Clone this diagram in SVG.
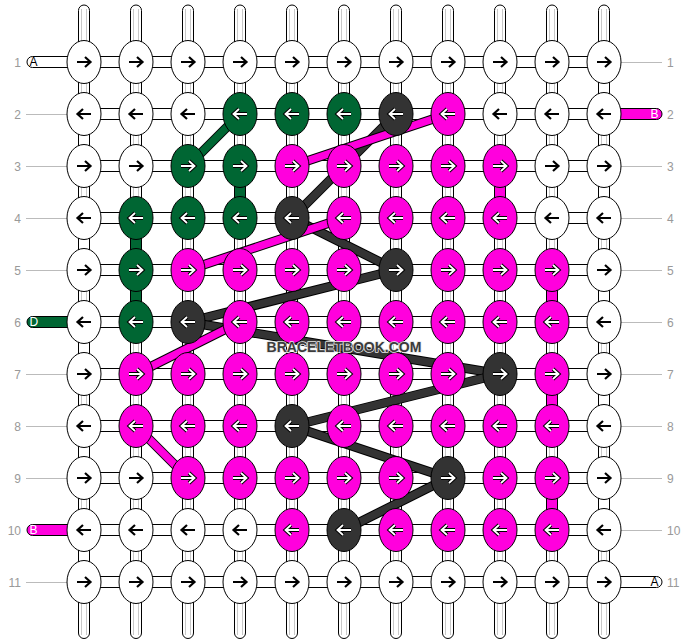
<svg xmlns="http://www.w3.org/2000/svg" xmlns:xlink="http://www.w3.org/1999/xlink" width="688" height="644" viewBox="0 0 688 644">
<style>
.th{fill:#fff;stroke:#000;stroke-width:1}
.gl{fill:none;stroke:#c8c8c8;stroke-width:1}
.ll{stroke:#bbb;stroke-width:1}
.num{font-family:"Liberation Sans",Arial,sans-serif;font-size:12px;fill:#999}
.pt{font-family:"Liberation Sans",Arial,sans-serif;font-size:12px}
ellipse{stroke:#000;stroke-width:1}
.w{fill:#fff}.g{fill:#006633}.m{fill:#ff00dd}.k{fill:#333333}
.ab{fill:none;stroke:#000;stroke-width:2.2}
.ao{fill:none;stroke:#000;stroke-width:3.8}
.aw{fill:none;stroke:#fff;stroke-width:1.8}
.bo{stroke:#000;stroke-width:9.5}
.bg{stroke:#006633;stroke-width:7.5}
.bm{stroke:#ff00dd;stroke-width:7.5}
.bk{stroke:#333333;stroke-width:7.5}
.wm{font-family:"Liberation Sans",Arial,sans-serif;font-weight:bold;font-size:14px;fill:#3c3c3c;stroke:#e8e8e8;stroke-width:1.6;paint-order:stroke;stroke-linejoin:round}
</style>
<defs>
<path id="rp" d="M-7,0H6M1,-5L6.5,0L1,5"/>
<path id="lp" d="M7,0H-6M-1,-5L-6.5,0L-1,5"/>
<g id="RB"><use href="#rp" class="ab"/></g>
<g id="LB"><use href="#lp" class="ab"/></g>
<g id="RW"><use href="#rp" class="ao"/><use href="#rp" class="aw"/></g>
<g id="LW"><use href="#lp" class="ao"/><use href="#lp" class="aw"/></g>
</defs>
<rect width="688" height="644" fill="#fff"/>
<g id="threads">
<rect class="th" x="78.5" y="5" width="11" height="633.5" rx="5.5"/>
<rect class="th" x="130.5" y="5" width="11" height="633.5" rx="5.5"/>
<rect class="th" x="182.5" y="5" width="11" height="633.5" rx="5.5"/>
<rect class="th" x="234.5" y="5" width="11" height="633.5" rx="5.5"/>
<rect class="th" x="286.5" y="5" width="11" height="633.5" rx="5.5"/>
<rect class="th" x="338.5" y="5" width="11" height="633.5" rx="5.5"/>
<rect class="th" x="390.5" y="5" width="11" height="633.5" rx="5.5"/>
<rect class="th" x="442.5" y="5" width="11" height="633.5" rx="5.5"/>
<rect class="th" x="494.5" y="5" width="11" height="633.5" rx="5.5"/>
<rect class="th" x="546.5" y="5" width="11" height="633.5" rx="5.5"/>
<rect class="th" x="598.5" y="5" width="11" height="633.5" rx="5.5"/>
<path class="gl" d="M81.5,9V635M86.5,9V635M133.5,9V635M138.5,9V635M185.5,9V635M190.5,9V635M237.5,9V635M242.5,9V635M289.5,9V635M294.5,9V635M341.5,9V635M346.5,9V635M393.5,9V635M398.5,9V635M445.5,9V635M450.5,9V635M497.5,9V635M502.5,9V635M549.5,9V635M554.5,9V635M601.5,9V635M606.5,9V635"/>
<rect class="th" x="78.5" y="133" width="11" height="14"/>
<rect class="th" x="78.5" y="237" width="11" height="14"/>
<rect class="th" x="78.5" y="341" width="11" height="14"/>
<rect class="th" x="78.5" y="445" width="11" height="14"/>
<rect class="th" x="78.5" y="549" width="11" height="14"/>
<rect class="th" x="598.5" y="81" width="11" height="14"/>
<rect class="th" x="598.5" y="185" width="11" height="14"/>
<rect class="th" x="598.5" y="289" width="11" height="14"/>
<rect class="th" x="598.5" y="393" width="11" height="14"/>
<rect class="th" x="598.5" y="497" width="11" height="14"/>
<rect class="th g" x="130.5" y="237" width="11" height="14"/>
<rect class="th g" x="130.5" y="289" width="11" height="14"/>
<rect class="th g" x="234.5" y="185" width="11" height="14"/>
<rect class="th m" x="494.5" y="185" width="11" height="14"/>
<rect class="th m" x="546.5" y="289" width="11" height="14"/>
<rect class="th m" x="546.5" y="393" width="11" height="14"/>
<rect class="th m" x="546.5" y="497" width="11" height="14"/>
<rect class="th" x="84" y="56.5" width="520" height="11"/>
<rect class="th" x="84" y="108.5" width="520" height="11"/>
<rect class="th" x="84" y="160.5" width="520" height="11"/>
<rect class="th" x="84" y="212.5" width="520" height="11"/>
<rect class="th" x="84" y="264.5" width="520" height="11"/>
<rect class="th" x="84" y="316.5" width="520" height="11"/>
<rect class="th" x="84" y="368.5" width="520" height="11"/>
<rect class="th" x="84" y="420.5" width="520" height="11"/>
<rect class="th" x="84" y="472.5" width="520" height="11"/>
<rect class="th" x="84" y="524.5" width="520" height="11"/>
<rect class="th" x="84" y="576.5" width="520" height="11"/>
</g>
<g id="labels">
<line class="ll" x1="26" y1="114.5" x2="67" y2="114.5"/>
<line class="ll" x1="26" y1="166.5" x2="67" y2="166.5"/>
<line class="ll" x1="26" y1="218.5" x2="67" y2="218.5"/>
<line class="ll" x1="26" y1="270.5" x2="67" y2="270.5"/>
<line class="ll" x1="26" y1="374.5" x2="67" y2="374.5"/>
<line class="ll" x1="26" y1="426.5" x2="67" y2="426.5"/>
<line class="ll" x1="26" y1="478.5" x2="67" y2="478.5"/>
<line class="ll" x1="26" y1="582.5" x2="67" y2="582.5"/>
<line class="ll" x1="621" y1="62.5" x2="662" y2="62.5"/>
<line class="ll" x1="621" y1="166.5" x2="662" y2="166.5"/>
<line class="ll" x1="621" y1="218.5" x2="662" y2="218.5"/>
<line class="ll" x1="621" y1="270.5" x2="662" y2="270.5"/>
<line class="ll" x1="621" y1="322.5" x2="662" y2="322.5"/>
<line class="ll" x1="621" y1="374.5" x2="662" y2="374.5"/>
<line class="ll" x1="621" y1="426.5" x2="662" y2="426.5"/>
<line class="ll" x1="621" y1="478.5" x2="662" y2="478.5"/>
<line class="ll" x1="621" y1="530.5" x2="662" y2="530.5"/>
<g text-anchor="end">
<text class="num" x="21" y="66.5">1</text>
<text class="num" x="21" y="118.5">2</text>
<text class="num" x="21" y="170.5">3</text>
<text class="num" x="21" y="222.5">4</text>
<text class="num" x="21" y="274.5">5</text>
<text class="num" x="21" y="326.5">6</text>
<text class="num" x="21" y="378.5">7</text>
<text class="num" x="21" y="430.5">8</text>
<text class="num" x="21" y="482.5">9</text>
<text class="num" x="21" y="534.5">10</text>
<text class="num" x="21" y="586.5">11</text>
</g>
<text class="num" x="667" y="66.5">1</text>
<text class="num" x="667" y="118.5">2</text>
<text class="num" x="667" y="170.5">3</text>
<text class="num" x="667" y="222.5">4</text>
<text class="num" x="667" y="274.5">5</text>
<text class="num" x="667" y="326.5">6</text>
<text class="num" x="667" y="378.5">7</text>
<text class="num" x="667" y="430.5">8</text>
<text class="num" x="667" y="482.5">9</text>
<text class="num" x="667" y="534.5">10</text>
<text class="num" x="667" y="586.5">11</text>
</g>
<g id="thread-ends">
<g id="end-A-left"><path class="th" d="M70,56.5H32.5A5.5,5.5 0 0 0 32.5,67.5H70Z"/><text class="pt" x="29.5" y="66" fill="#000">A</text></g>
<g id="end-D-left"><path class="th g" d="M70,316.5H32.5A5.5,5.5 0 0 0 32.5,327.5H70Z"/><text class="pt" x="29.5" y="326" fill="#fff">D</text></g>
<g id="end-B-left"><path class="th m" d="M70,524.5H32.5A5.5,5.5 0 0 0 32.5,535.5H70Z"/><text class="pt" x="29.5" y="534" fill="#fff">B</text></g>
<g id="end-B-right"><path class="th m" d="M618,108.5H656.5A5.5,5.5 0 0 1 656.5,119.5H618Z"/><text class="pt" x="650.5" y="118" fill="#fff">B</text></g>
<g id="end-A-right"><path class="th" d="M618,576.5H656.5A5.5,5.5 0 0 1 656.5,587.5H618Z"/><text class="pt" x="650.5" y="586" fill="#000">A</text></g>
</g>
<g id="connectors">
<line class="bo" x1="188" y1="166" x2="240" y2="114"/><line class="bg" x1="188" y1="166" x2="240" y2="114"/>
<line class="bo" x1="396" y1="114" x2="292" y2="218"/><line class="bk" x1="396" y1="114" x2="292" y2="218"/>
<line class="bo" x1="292" y1="218" x2="396" y2="270"/><line class="bk" x1="292" y1="218" x2="396" y2="270"/>
<line class="bo" x1="396" y1="270" x2="188" y2="322"/><line class="bk" x1="396" y1="270" x2="188" y2="322"/>
<line class="bo" x1="188" y1="322" x2="500" y2="374"/><line class="bk" x1="188" y1="322" x2="500" y2="374"/>
<line class="bo" x1="500" y1="374" x2="292" y2="426"/><line class="bk" x1="500" y1="374" x2="292" y2="426"/>
<line class="bo" x1="292" y1="426" x2="448" y2="478"/><line class="bk" x1="292" y1="426" x2="448" y2="478"/>
<line class="bo" x1="448" y1="478" x2="344" y2="530"/><line class="bk" x1="448" y1="478" x2="344" y2="530"/>
<line class="bo" x1="448" y1="114" x2="292" y2="166"/><line class="bm" x1="448" y1="114" x2="292" y2="166"/>
<line class="bo" x1="344" y1="218" x2="188" y2="270"/><line class="bm" x1="344" y1="218" x2="188" y2="270"/>
<line class="bo" x1="240" y1="322" x2="136" y2="374"/><line class="bm" x1="240" y1="322" x2="136" y2="374"/>
<line class="bo" x1="136" y1="426" x2="188" y2="478"/><line class="bm" x1="136" y1="426" x2="188" y2="478"/>
</g>
<g id="knots">
<g id="k1-1" transform="translate(84,62)"><ellipse class="w" rx="17" ry="21.5"/><use href="#RB"/></g>
<g id="k1-2" transform="translate(136,62)"><ellipse class="w" rx="17" ry="21.5"/><use href="#RB"/></g>
<g id="k1-3" transform="translate(188,62)"><ellipse class="w" rx="17" ry="21.5"/><use href="#RB"/></g>
<g id="k1-4" transform="translate(240,62)"><ellipse class="w" rx="17" ry="21.5"/><use href="#RB"/></g>
<g id="k1-5" transform="translate(292,62)"><ellipse class="w" rx="17" ry="21.5"/><use href="#RB"/></g>
<g id="k1-6" transform="translate(344,62)"><ellipse class="w" rx="17" ry="21.5"/><use href="#RB"/></g>
<g id="k1-7" transform="translate(396,62)"><ellipse class="w" rx="17" ry="21.5"/><use href="#RB"/></g>
<g id="k1-8" transform="translate(448,62)"><ellipse class="w" rx="17" ry="21.5"/><use href="#RB"/></g>
<g id="k1-9" transform="translate(500,62)"><ellipse class="w" rx="17" ry="21.5"/><use href="#RB"/></g>
<g id="k1-10" transform="translate(552,62)"><ellipse class="w" rx="17" ry="21.5"/><use href="#RB"/></g>
<g id="k1-11" transform="translate(604,62)"><ellipse class="w" rx="17" ry="21.5"/><use href="#RB"/></g>

<g id="k2-1" transform="translate(84,114)"><ellipse class="w" rx="17" ry="21.5"/><use href="#LB"/></g>
<g id="k2-2" transform="translate(136,114)"><ellipse class="w" rx="17" ry="21.5"/><use href="#LB"/></g>
<g id="k2-3" transform="translate(188,114)"><ellipse class="w" rx="17" ry="21.5"/><use href="#LB"/></g>
<g id="k2-4" transform="translate(240,114)"><ellipse class="g" rx="17" ry="21.5"/><use href="#LW"/></g>
<g id="k2-5" transform="translate(292,114)"><ellipse class="g" rx="17" ry="21.5"/><use href="#LW"/></g>
<g id="k2-6" transform="translate(344,114)"><ellipse class="g" rx="17" ry="21.5"/><use href="#LW"/></g>
<g id="k2-7" transform="translate(396,114)"><ellipse class="k" rx="17" ry="21.5"/><use href="#LW"/></g>
<g id="k2-8" transform="translate(448,114)"><ellipse class="m" rx="17" ry="21.5"/><use href="#LW"/></g>
<g id="k2-9" transform="translate(500,114)"><ellipse class="w" rx="17" ry="21.5"/><use href="#LB"/></g>
<g id="k2-10" transform="translate(552,114)"><ellipse class="w" rx="17" ry="21.5"/><use href="#LB"/></g>
<g id="k2-11" transform="translate(604,114)"><ellipse class="w" rx="17" ry="21.5"/><use href="#LB"/></g>

<g id="k3-1" transform="translate(84,166)"><ellipse class="w" rx="17" ry="21.5"/><use href="#RB"/></g>
<g id="k3-2" transform="translate(136,166)"><ellipse class="w" rx="17" ry="21.5"/><use href="#RB"/></g>
<g id="k3-3" transform="translate(188,166)"><ellipse class="g" rx="17" ry="21.5"/><use href="#RW"/></g>
<g id="k3-4" transform="translate(240,166)"><ellipse class="g" rx="17" ry="21.5"/><use href="#RW"/></g>
<g id="k3-5" transform="translate(292,166)"><ellipse class="m" rx="17" ry="21.5"/><use href="#RW"/></g>
<g id="k3-6" transform="translate(344,166)"><ellipse class="m" rx="17" ry="21.5"/><use href="#RW"/></g>
<g id="k3-7" transform="translate(396,166)"><ellipse class="m" rx="17" ry="21.5"/><use href="#RW"/></g>
<g id="k3-8" transform="translate(448,166)"><ellipse class="m" rx="17" ry="21.5"/><use href="#RW"/></g>
<g id="k3-9" transform="translate(500,166)"><ellipse class="m" rx="17" ry="21.5"/><use href="#RW"/></g>
<g id="k3-10" transform="translate(552,166)"><ellipse class="w" rx="17" ry="21.5"/><use href="#RB"/></g>
<g id="k3-11" transform="translate(604,166)"><ellipse class="w" rx="17" ry="21.5"/><use href="#RB"/></g>

<g id="k4-1" transform="translate(84,218)"><ellipse class="w" rx="17" ry="21.5"/><use href="#LB"/></g>
<g id="k4-2" transform="translate(136,218)"><ellipse class="g" rx="17" ry="21.5"/><use href="#LW"/></g>
<g id="k4-3" transform="translate(188,218)"><ellipse class="g" rx="17" ry="21.5"/><use href="#LW"/></g>
<g id="k4-4" transform="translate(240,218)"><ellipse class="g" rx="17" ry="21.5"/><use href="#LW"/></g>
<g id="k4-5" transform="translate(292,218)"><ellipse class="k" rx="17" ry="21.5"/><use href="#LW"/></g>
<g id="k4-6" transform="translate(344,218)"><ellipse class="m" rx="17" ry="21.5"/><use href="#LW"/></g>
<g id="k4-7" transform="translate(396,218)"><ellipse class="m" rx="17" ry="21.5"/><use href="#LW"/></g>
<g id="k4-8" transform="translate(448,218)"><ellipse class="m" rx="17" ry="21.5"/><use href="#LW"/></g>
<g id="k4-9" transform="translate(500,218)"><ellipse class="m" rx="17" ry="21.5"/><use href="#LW"/></g>
<g id="k4-10" transform="translate(552,218)"><ellipse class="w" rx="17" ry="21.5"/><use href="#LB"/></g>
<g id="k4-11" transform="translate(604,218)"><ellipse class="w" rx="17" ry="21.5"/><use href="#LB"/></g>

<g id="k5-1" transform="translate(84,270)"><ellipse class="w" rx="17" ry="21.5"/><use href="#RB"/></g>
<g id="k5-2" transform="translate(136,270)"><ellipse class="g" rx="17" ry="21.5"/><use href="#RW"/></g>
<g id="k5-3" transform="translate(188,270)"><ellipse class="m" rx="17" ry="21.5"/><use href="#RW"/></g>
<g id="k5-4" transform="translate(240,270)"><ellipse class="m" rx="17" ry="21.5"/><use href="#RW"/></g>
<g id="k5-5" transform="translate(292,270)"><ellipse class="m" rx="17" ry="21.5"/><use href="#RW"/></g>
<g id="k5-6" transform="translate(344,270)"><ellipse class="m" rx="17" ry="21.5"/><use href="#RW"/></g>
<g id="k5-7" transform="translate(396,270)"><ellipse class="k" rx="17" ry="21.5"/><use href="#RW"/></g>
<g id="k5-8" transform="translate(448,270)"><ellipse class="m" rx="17" ry="21.5"/><use href="#RW"/></g>
<g id="k5-9" transform="translate(500,270)"><ellipse class="m" rx="17" ry="21.5"/><use href="#RW"/></g>
<g id="k5-10" transform="translate(552,270)"><ellipse class="m" rx="17" ry="21.5"/><use href="#RW"/></g>
<g id="k5-11" transform="translate(604,270)"><ellipse class="w" rx="17" ry="21.5"/><use href="#RB"/></g>

<g id="k6-1" transform="translate(84,322)"><ellipse class="w" rx="17" ry="21.5"/><use href="#LB"/></g>
<g id="k6-2" transform="translate(136,322)"><ellipse class="g" rx="17" ry="21.5"/><use href="#LW"/></g>
<g id="k6-3" transform="translate(188,322)"><ellipse class="k" rx="17" ry="21.5"/><use href="#LW"/></g>
<g id="k6-4" transform="translate(240,322)"><ellipse class="m" rx="17" ry="21.5"/><use href="#LW"/></g>
<g id="k6-5" transform="translate(292,322)"><ellipse class="m" rx="17" ry="21.5"/><use href="#LW"/></g>
<g id="k6-6" transform="translate(344,322)"><ellipse class="m" rx="17" ry="21.5"/><use href="#LW"/></g>
<g id="k6-7" transform="translate(396,322)"><ellipse class="m" rx="17" ry="21.5"/><use href="#LW"/></g>
<g id="k6-8" transform="translate(448,322)"><ellipse class="m" rx="17" ry="21.5"/><use href="#LW"/></g>
<g id="k6-9" transform="translate(500,322)"><ellipse class="m" rx="17" ry="21.5"/><use href="#LW"/></g>
<g id="k6-10" transform="translate(552,322)"><ellipse class="m" rx="17" ry="21.5"/><use href="#LW"/></g>
<g id="k6-11" transform="translate(604,322)"><ellipse class="w" rx="17" ry="21.5"/><use href="#LB"/></g>

<g id="k7-1" transform="translate(84,374)"><ellipse class="w" rx="17" ry="21.5"/><use href="#RB"/></g>
<g id="k7-2" transform="translate(136,374)"><ellipse class="m" rx="17" ry="21.5"/><use href="#RW"/></g>
<g id="k7-3" transform="translate(188,374)"><ellipse class="m" rx="17" ry="21.5"/><use href="#RW"/></g>
<g id="k7-4" transform="translate(240,374)"><ellipse class="m" rx="17" ry="21.5"/><use href="#RW"/></g>
<g id="k7-5" transform="translate(292,374)"><ellipse class="m" rx="17" ry="21.5"/><use href="#RW"/></g>
<g id="k7-6" transform="translate(344,374)"><ellipse class="m" rx="17" ry="21.5"/><use href="#RW"/></g>
<g id="k7-7" transform="translate(396,374)"><ellipse class="m" rx="17" ry="21.5"/><use href="#RW"/></g>
<g id="k7-8" transform="translate(448,374)"><ellipse class="m" rx="17" ry="21.5"/><use href="#RW"/></g>
<g id="k7-9" transform="translate(500,374)"><ellipse class="k" rx="17" ry="21.5"/><use href="#RW"/></g>
<g id="k7-10" transform="translate(552,374)"><ellipse class="m" rx="17" ry="21.5"/><use href="#RW"/></g>
<g id="k7-11" transform="translate(604,374)"><ellipse class="w" rx="17" ry="21.5"/><use href="#RB"/></g>

<g id="k8-1" transform="translate(84,426)"><ellipse class="w" rx="17" ry="21.5"/><use href="#LB"/></g>
<g id="k8-2" transform="translate(136,426)"><ellipse class="m" rx="17" ry="21.5"/><use href="#LW"/></g>
<g id="k8-3" transform="translate(188,426)"><ellipse class="m" rx="17" ry="21.5"/><use href="#LW"/></g>
<g id="k8-4" transform="translate(240,426)"><ellipse class="m" rx="17" ry="21.5"/><use href="#LW"/></g>
<g id="k8-5" transform="translate(292,426)"><ellipse class="k" rx="17" ry="21.5"/><use href="#LW"/></g>
<g id="k8-6" transform="translate(344,426)"><ellipse class="m" rx="17" ry="21.5"/><use href="#LW"/></g>
<g id="k8-7" transform="translate(396,426)"><ellipse class="m" rx="17" ry="21.5"/><use href="#LW"/></g>
<g id="k8-8" transform="translate(448,426)"><ellipse class="m" rx="17" ry="21.5"/><use href="#LW"/></g>
<g id="k8-9" transform="translate(500,426)"><ellipse class="m" rx="17" ry="21.5"/><use href="#LW"/></g>
<g id="k8-10" transform="translate(552,426)"><ellipse class="m" rx="17" ry="21.5"/><use href="#LW"/></g>
<g id="k8-11" transform="translate(604,426)"><ellipse class="w" rx="17" ry="21.5"/><use href="#LB"/></g>

<g id="k9-1" transform="translate(84,478)"><ellipse class="w" rx="17" ry="21.5"/><use href="#RB"/></g>
<g id="k9-2" transform="translate(136,478)"><ellipse class="w" rx="17" ry="21.5"/><use href="#RB"/></g>
<g id="k9-3" transform="translate(188,478)"><ellipse class="m" rx="17" ry="21.5"/><use href="#RW"/></g>
<g id="k9-4" transform="translate(240,478)"><ellipse class="m" rx="17" ry="21.5"/><use href="#RW"/></g>
<g id="k9-5" transform="translate(292,478)"><ellipse class="m" rx="17" ry="21.5"/><use href="#RW"/></g>
<g id="k9-6" transform="translate(344,478)"><ellipse class="m" rx="17" ry="21.5"/><use href="#RW"/></g>
<g id="k9-7" transform="translate(396,478)"><ellipse class="m" rx="17" ry="21.5"/><use href="#RW"/></g>
<g id="k9-8" transform="translate(448,478)"><ellipse class="k" rx="17" ry="21.5"/><use href="#RW"/></g>
<g id="k9-9" transform="translate(500,478)"><ellipse class="m" rx="17" ry="21.5"/><use href="#RW"/></g>
<g id="k9-10" transform="translate(552,478)"><ellipse class="m" rx="17" ry="21.5"/><use href="#RW"/></g>
<g id="k9-11" transform="translate(604,478)"><ellipse class="w" rx="17" ry="21.5"/><use href="#RB"/></g>

<g id="k10-1" transform="translate(84,530)"><ellipse class="w" rx="17" ry="21.5"/><use href="#LB"/></g>
<g id="k10-2" transform="translate(136,530)"><ellipse class="w" rx="17" ry="21.5"/><use href="#LB"/></g>
<g id="k10-3" transform="translate(188,530)"><ellipse class="w" rx="17" ry="21.5"/><use href="#LB"/></g>
<g id="k10-4" transform="translate(240,530)"><ellipse class="w" rx="17" ry="21.5"/><use href="#LB"/></g>
<g id="k10-5" transform="translate(292,530)"><ellipse class="m" rx="17" ry="21.5"/><use href="#LW"/></g>
<g id="k10-6" transform="translate(344,530)"><ellipse class="k" rx="17" ry="21.5"/><use href="#LW"/></g>
<g id="k10-7" transform="translate(396,530)"><ellipse class="m" rx="17" ry="21.5"/><use href="#LW"/></g>
<g id="k10-8" transform="translate(448,530)"><ellipse class="m" rx="17" ry="21.5"/><use href="#LW"/></g>
<g id="k10-9" transform="translate(500,530)"><ellipse class="m" rx="17" ry="21.5"/><use href="#LW"/></g>
<g id="k10-10" transform="translate(552,530)"><ellipse class="m" rx="17" ry="21.5"/><use href="#LW"/></g>
<g id="k10-11" transform="translate(604,530)"><ellipse class="w" rx="17" ry="21.5"/><use href="#LB"/></g>

<g id="k11-1" transform="translate(84,582)"><ellipse class="w" rx="17" ry="21.5"/><use href="#RB"/></g>
<g id="k11-2" transform="translate(136,582)"><ellipse class="w" rx="17" ry="21.5"/><use href="#RB"/></g>
<g id="k11-3" transform="translate(188,582)"><ellipse class="w" rx="17" ry="21.5"/><use href="#RB"/></g>
<g id="k11-4" transform="translate(240,582)"><ellipse class="w" rx="17" ry="21.5"/><use href="#RB"/></g>
<g id="k11-5" transform="translate(292,582)"><ellipse class="w" rx="17" ry="21.5"/><use href="#RB"/></g>
<g id="k11-6" transform="translate(344,582)"><ellipse class="w" rx="17" ry="21.5"/><use href="#RB"/></g>
<g id="k11-7" transform="translate(396,582)"><ellipse class="w" rx="17" ry="21.5"/><use href="#RB"/></g>
<g id="k11-8" transform="translate(448,582)"><ellipse class="w" rx="17" ry="21.5"/><use href="#RB"/></g>
<g id="k11-9" transform="translate(500,582)"><ellipse class="w" rx="17" ry="21.5"/><use href="#RB"/></g>
<g id="k11-10" transform="translate(552,582)"><ellipse class="w" rx="17" ry="21.5"/><use href="#RB"/></g>
<g id="k11-11" transform="translate(604,582)"><ellipse class="w" rx="17" ry="21.5"/><use href="#RB"/></g>
</g>
<text id="watermark" class="wm" x="344" y="352" text-anchor="middle">BRACELETBOOK.COM</text>
</svg>
